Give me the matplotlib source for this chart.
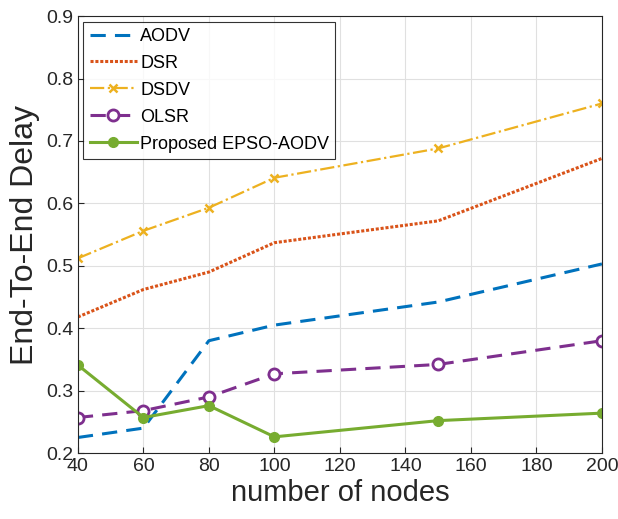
import numpy as np
import matplotlib.pyplot as plt

nodes = [40, 60, 80, 100, 150, 200]
aodv = [0.225, 0.240, 0.380, 0.405, 0.442, 0.503]
dsr = [0.418, 0.462, 0.490, 0.537, 0.572, 0.672]
dsdv = [0.512, 0.556, 0.593, 0.641, 0.688, 0.760]
olsr = [0.257, 0.268, 0.290, 0.327, 0.342, 0.380]
epso = [0.341, 0.257, 0.276, 0.226, 0.252, 0.264]

plt.rcParams['font.family'] = ['Liberation Sans', 'DejaVu Sans']

fig = plt.figure(figsize=(6.18, 5.19), dpi=100)
ax = fig.add_axes([0.126, 0.127, 0.848, 0.842])

ax.plot(nodes, aodv, color='#0072BD', lw=2.2, ls=(0, (5, 3)), label='AODV')
ax.plot(nodes, dsr, color='#D95319', lw=2.2, ls=(0, (1, 0.6)), label='DSR')
ax.plot(nodes, dsdv, color='#EDB120', lw=1.6, ls='-.', marker='x', ms=6, mew=1.8, label='DSDV')
ax.plot(nodes, olsr, color='#7E2F8E', lw=2.2, ls=(0, (5, 3)), marker='o', ms=8,
        mfc='white', mew=2, label='OLSR')
ax.plot(nodes, epso, color='#77AC30', lw=2.2, marker='o', ms=7, label='Proposed EPSO-AODV')

ax.set_xlim(40, 200)
ax.set_ylim(0.2, 0.9)
ax.set_xticks(np.arange(40, 201, 20))
ax.set_yticks(np.arange(0.2, 0.91, 0.1))
ax.set_yticklabels(['0.2', '0.3', '0.4', '0.5', '0.6', '0.7', '0.8', '0.9'])
ax.tick_params(direction='in', labelsize=14, colors='#262626', length=4)
ax.grid(True, color='#e0e0e0', lw=0.8)
ax.set_axisbelow(True)
for s in ax.spines.values():
    s.set_color('#262626')

ax.set_xlabel('number of nodes', fontsize=21, color='#262626', labelpad=3)
ax.set_ylabel('End-To-End Delay', fontsize=23, color='#262626', labelpad=4)

leg = ax.legend(loc='upper left', fontsize=13, frameon=True, fancybox=False,
                edgecolor='black', handlelength=2.6, borderaxespad=0.3,
                labelspacing=0.55, handletextpad=0.2, borderpad=0.35)
leg.get_frame().set_linewidth(0.8)

fig.savefig('out.png', dpi=100)
